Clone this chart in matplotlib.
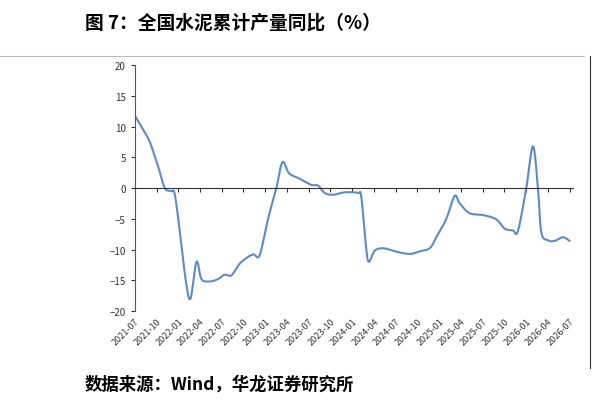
import matplotlib
matplotlib.use("Agg")
import matplotlib.pyplot as plt
import numpy as np
from matplotlib.lines import Line2D

plt.rcParams['font.family'] = ['Noto Sans CJK SC', 'DejaVu Sans']

# months since 2021-07
t = [0, 1.15, 2.07, 3.22, 4.14, 5.06, 5.52, 6.21, 7.03, 7.68, 8.51, 9.20, 10.34, 11.49, 12.41,
     13.33, 14.48, 15.63, 16.41, 17.24, 18.39, 19.54, 20.37, 21.29, 22.76, 24.37, 25.29, 26.21,
     27.36, 28.97, 30.80, 31.26, 31.95, 32.32, 33.10, 34.25, 35.63, 37.01, 38.16, 39.31, 40.69,
     41.61, 42.99, 44.14, 44.83, 46.21, 48.05, 49.89, 51.03, 52.18, 52.87, 54.02, 54.94, 55.63,
     56.09, 57.01, 57.93, 59.08, 60]
values = [11.8, 9.5, 7.5, 3.5, 0, -0.5, -1, -7, -15, -18, -12, -14.8, -15.2, -14.8, -14.1,
          -14.2, -12.3, -11.2, -10.8, -10.9, -5, 0, 4.2, 2.4, 1.5, 0.5, 0.4, -0.8,
          -1.1, -0.7, -0.8, -1.5, -10, -12, -10.2, -9.8, -10.2, -10.6, -10.7, -10.3, -9.8,
          -8, -5, -1.3, -2.5, -4.1, -4.4, -5.1, -6.6, -6.9, -7, 0, 6.8, 0,
          -7.2, -8.5, -8.6, -8, -8.6]
tick_labels = ['2021-07', '2021-10', '2022-01', '2022-04', '2022-07', '2022-10', '2023-01',
               '2023-04', '2023-07', '2023-10', '2024-01', '2024-04', '2024-07', '2024-10',
               '2025-01', '2025-04', '2025-07', '2025-10', '2026-01', '2026-04', '2026-07']
title = '图 7：全国水泥累计产量同比（%）'
source = '数据来源：Wind，华龙证券研究所'


def catmull_rom(x, y, n=12):
    x = np.asarray(x, float); y = np.asarray(y, float)
    px = np.concatenate([[x[0]], x, [x[-1]]]); py = np.concatenate([[y[0]], y, [y[-1]]])
    ox, oy = [], []
    s = np.linspace(0, 1, n, endpoint=False)
    for i in range(1, len(px) - 2):
        for arr, out in ((px, ox), (py, oy)):
            p0, p1, p2, p3 = arr[i - 1], arr[i], arr[i + 1], arr[i + 2]
            out.extend(0.5 * (2 * p1 + (-p0 + p2) * s + (2 * p0 - 5 * p1 + 4 * p2 - p3) * s ** 2
                              + (-p0 + 3 * p1 - 3 * p2 + p3) * s ** 3))
    ox.append(x[-1]); oy.append(y[-1])
    return ox, oy


fig = plt.figure(figsize=(5.99, 4.10), dpi=100)
ax = fig.add_axes([0.225, 0.239, 0.732, 0.60])
sx, sy = catmull_rom(t, values)
ax.plot(sx, sy, color='#5b8bcb', lw=1.5, solid_capstyle='round')
ax.set_ylim(-20, 20)
ax.set_xlim(0, 60.5)
ax.set_yticks(range(-20, 21, 5))
ax.tick_params(axis='y', labelsize=7, colors='#333333', length=3)
for s in ['top', 'right']:
    ax.spines[s].set_visible(False)
ax.spines['left'].set_color('#555555')
ax.spines['bottom'].set_position(('data', 0))
ax.spines['bottom'].set_color('#333333')
ticks = [3 * i for i in range(len(tick_labels))]
ax.set_xticks(ticks)
ax.tick_params(axis='x', labelbottom=False, length=3, direction='out', colors='#333333')
sec = ax.secondary_xaxis('bottom')
sec.spines['bottom'].set_visible(False)
sec.set_xticks(ticks)
sec.set_xticklabels(tick_labels, rotation=45, ha='right', rotation_mode='anchor', fontsize=6.5, color='#333333')
sec.tick_params(length=0, pad=4)

fig.text(0.142, 0.945, title, fontsize=13.5, fontweight='bold', va='center')
fig.text(0.142, 0.063, source, fontsize=12.5, fontweight='bold', va='center')
fig.add_artist(Line2D([0, 0.975], [0.86, 0.86], color='#bbbbbb', lw=0.8))
fig.add_artist(Line2D([0.985, 0.985], [0.1, 0.86], color='#333333', lw=0.8))
fig.savefig('out.png', dpi=100)
